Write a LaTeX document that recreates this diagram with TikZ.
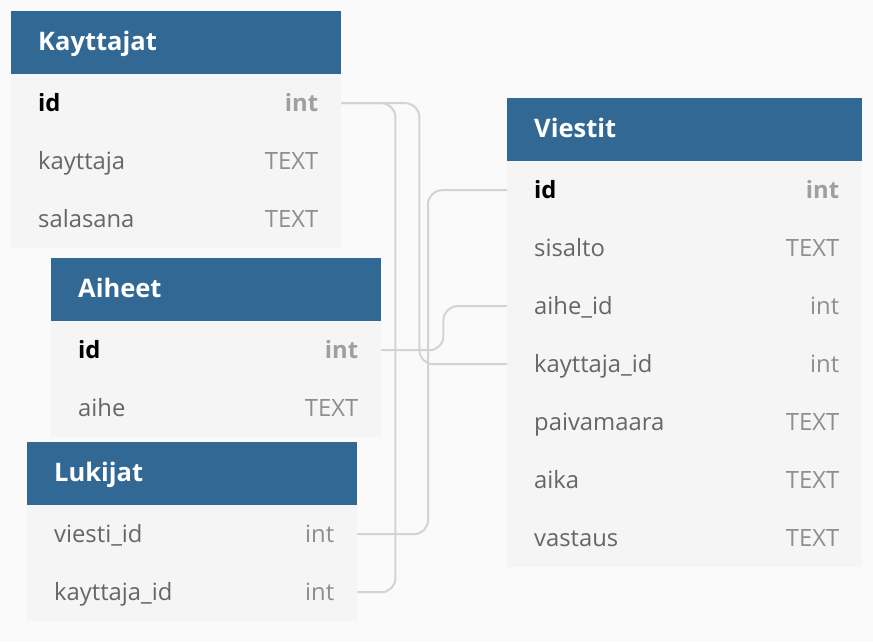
\documentclass[tikz,border=0pt]{standalone}
\usepackage{fontspec}
\setmainfont{Open Sans}
\usetikzlibrary{positioning}
\definecolor{headblue}{HTML}{316894}
\definecolor{rowgray}{HTML}{F5F5F5}
\definecolor{bggray}{HTML}{FAFAFA}
\definecolor{linkgray}{HTML}{D3D3D3}
\definecolor{namegray}{HTML}{666666}
\definecolor{typegray}{HTML}{8E8E8E}

\begin{document}
\begin{tikzpicture}[x=1pt,y=-1pt,
    head/.style={fill=headblue,anchor=north west,minimum height=63pt,inner sep=0pt},
    title/.style={text=white,inner sep=0pt,text height=20pt,text depth=4pt,font=\fontsize{25.5}{30}\selectfont\bfseries},
    row/.style={fill=rowgray,anchor=north west,minimum height=58pt,inner sep=0pt},
    namekey/.style={text=black,inner sep=0pt,text height=19.5pt,text depth=3pt,font=\fontsize{23.8}{28}\selectfont\bfseries},
    typekey/.style={text=typegray!85,inner sep=0pt,text height=19.5pt,text depth=3pt,font=\fontsize{23.8}{28}\selectfont\bfseries},
    nameplain/.style={text=namegray,inner sep=0pt,text height=19.5pt,text depth=3pt,font=\fontsize{23.8}{28}\selectfont},
    typeplain/.style={text=typegray,inner sep=0pt,text height=19.5pt,text depth=3pt,font=\fontsize{23.8}{28}\selectfont},
    link/.style={draw=linkgray,line width=2pt,rounded corners=14pt}]
  \fill[bggray] (0,0) rectangle (873,641);
  \useasboundingbox (0,0) rectangle (873,641);

  \node[head,minimum width=330pt] (kay) at (11,11) {};
  \node[title,right=27pt of kay.west] (kay-t) {Kayttajat};
  \foreach \n/\f/\t/\s [count=\i from 0] in {id/id/int/key,kt/kayttaja/TEXT/plain,ss/salasana/TEXT/plain}{
    \node[row,minimum width=330pt] (kay-\n) at (11,{74+58*\i}) {};
    \node[name\s,right=27pt of kay-\n.west] (kay-\n-f) {\f};
    \node[type\s,left=23pt of kay-\n.east] (kay-\n-t) {\t};
  }

  \node[head,minimum width=330pt] (aih) at (51,258) {};
  \node[title,right=27pt of aih.west] (aih-t) {Aiheet};
  \foreach \n/\f/\t/\s [count=\i from 0] in {id/id/int/key,ah/aihe/TEXT/plain}{
    \node[row,minimum width=330pt] (aih-\n) at (51,{321+58*\i}) {};
    \node[name\s,right=27pt of aih-\n.west] (aih-\n-f) {\f};
    \node[type\s,left=23pt of aih-\n.east] (aih-\n-t) {\t};
  }

  \node[head,minimum width=330pt] (luk) at (27,442) {};
  \node[title,right=27pt of luk.west] (luk-t) {Lukijat};
  \foreach \n/\f/\t/\s [count=\i from 0] in {vid/viesti\_id/int/plain,kid/kayttaja\_id/int/plain}{
    \node[row,minimum width=330pt] (luk-\n) at (27,{505+58*\i}) {};
    \node[name\s,right=27pt of luk-\n.west] (luk-\n-f) {\f};
    \node[type\s,left=23pt of luk-\n.east] (luk-\n-t) {\t};
  }

  \node[head,minimum width=355pt] (vie) at (507,98) {};
  \node[title,right=27pt of vie.west] (vie-t) {Viestit};
  \foreach \n/\f/\t/\s [count=\i from 0] in {id/id/int/key,sis/sisalto/TEXT/plain,aid/aihe\_id/int/plain,
      kid/kayttaja\_id/int/plain,pvm/paivamaara/TEXT/plain,aika/aika/TEXT/plain,vast/vastaus/TEXT/plain}{
    \node[row,minimum width=355pt] (vie-\n) at (507,{161+58*\i}) {};
    \node[name\s,right=27pt of vie-\n.west] (vie-\n-f) {\f};
    \node[type\s,left=23pt of vie-\n.east] (vie-\n-t) {\t};
  }

  \draw[link] (kay-id.east) -- ++(54,0) |- (luk-kid.east);
  \draw[link] (kay-id.east) -- ++(78,0) |- (vie-kid.west);
  \draw[link] (aih-id.east) -- ++(62,0) |- (vie-aid.west);
  \draw[link] (vie-id.west) -- ++(-79,0) |- (luk-vid.east);
\end{tikzpicture}
\end{document}
